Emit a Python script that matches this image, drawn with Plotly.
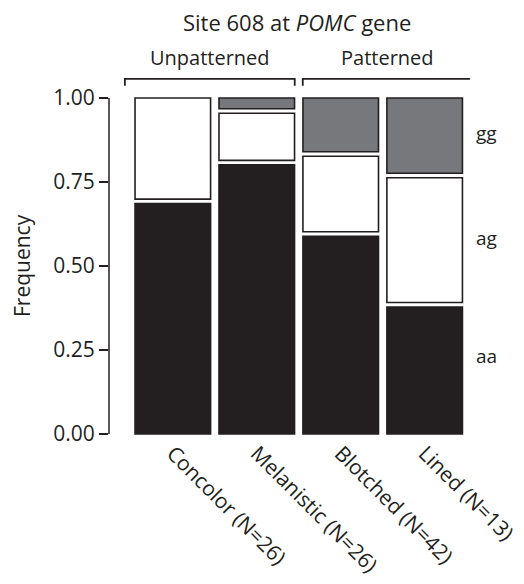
import plotly.graph_objects as go

categories = ["Concolor (N=26)", "Melanistic (N=26)", "Blotched (N=42)", "Lined (N=13)"]
genotypes = ["aa", "ag", "gg"]
counts_aa = [18, 21, 25, 5]
counts_ag = [8, 4, 10, 5]
counts_gg = [0, 1, 7, 3]
sample_n = [26, 26, 42, 13]
y_ticks = [0.0, 0.25, 0.5, 0.75, 1.0]
y_ticktext = ["0.00", "0.25", "0.50", "0.75", "1.00"]
groups = ["Unpatterned", "Patterned"]

fill = {"aa": "#231f20", "ag": "#ffffff", "gg": "#77787b"}
ink = "#231f20"
font_family = "Open Sans, Noto Sans, sans-serif"
gap = 0.0134

freqs = {
    "aa": [c / n for c, n in zip(counts_aa, sample_n)],
    "ag": [c / n for c, n in zip(counts_ag, sample_n)],
    "gg": [c / n for c, n in zip(counts_gg, sample_n)],
}

xs = list(range(len(categories)))
fig = go.Figure()
for xi in xs:
    cum = 0.0
    present = [g for g in genotypes if freqs[g][xi] > 0]
    for k, g in enumerate(present):
        v = freqs[g][xi]
        lo = cum + (gap / 2 if k > 0 else 0)
        hi = cum + v - (gap / 2 if k < len(present) - 1 else 0)
        fig.add_trace(go.Bar(
            x=[xi], y=[hi - lo], base=[lo], width=0.9,
            marker=dict(color=fill[g], line=dict(color=ink, width=1.6)),
            showlegend=False, hoverinfo="skip",
        ))
        cum += v

# the page body has an 8px default margin; the figure is sized to fit the window
fig.update_layout(
    width=516, height=576,
    margin=dict(l=101, r=54, t=86, b=148),
    paper_bgcolor="white", plot_bgcolor="white",
    font=dict(family=font_family, color=ink, size=20),
    barmode="overlay",
    xaxis=dict(range=[-0.76, 3.54], tickvals=xs, ticktext=categories,
               tickangle=45, showgrid=False, zeroline=False, showline=False,
               ticks="", tickfont=dict(size=21, color=ink), automargin=False),
    yaxis=dict(range=[-0.006, 1.012], tickvals=y_ticks, ticktext=y_ticktext,
               showgrid=False, zeroline=False, showline=False,
               ticks="outside", ticklen=9, tickwidth=1.5, tickcolor=ink,
               tickfont=dict(size=21, color=ink), automargin=False),
)

# y axis line from 0 to 1
fig.add_shape(type="line", xref="paper", yref="y", x0=0, x1=0, y0=0, y1=1,
              line=dict(color=ink, width=1.5))

# group brackets
brackets = [(-0.571, 1.452), (1.548, 3.571)]
for (a, b), name in zip(brackets, groups):
    fig.add_shape(type="path", xref="x", yref="paper",
                  path=f"M {a} 1.024 L {a} 1.044 L {b} 1.044 L {b} 1.024",
                  line=dict(color=ink, width=1.8))
    fig.add_annotation(x=(a + b) / 2, y=1.108, xref="x", yref="paper",
                       text=name, showarrow=False, yanchor="middle", xanchor="center",
                       font=dict(size=20, color=ink))

fig.add_annotation(x=(-0.571 + 3.571) / 2 - 0.02, y=1.21, xref="x", yref="paper",
                   text="Site 608 at <i>POMC</i> gene", showarrow=False,
                   yanchor="middle", xanchor="center", font=dict(size=22, color=ink))

# genotype labels on right
for g, yv in zip(["gg", "ag", "aa"], [0.896, 0.583, 0.232]):
    fig.add_annotation(x=1.01, y=yv, xref="paper", yref="y", text=g,
                       showarrow=False, xanchor="left", yanchor="middle",
                       font=dict(size=19, color=ink))

fig.add_annotation(x=-0.241, y=0.5, xref="paper", yref="paper", text="Frequency",
                   textangle=-90, showarrow=False, xanchor="center", yanchor="middle",
                   font=dict(size=21, color=ink))

fig.write_html("out.html")
